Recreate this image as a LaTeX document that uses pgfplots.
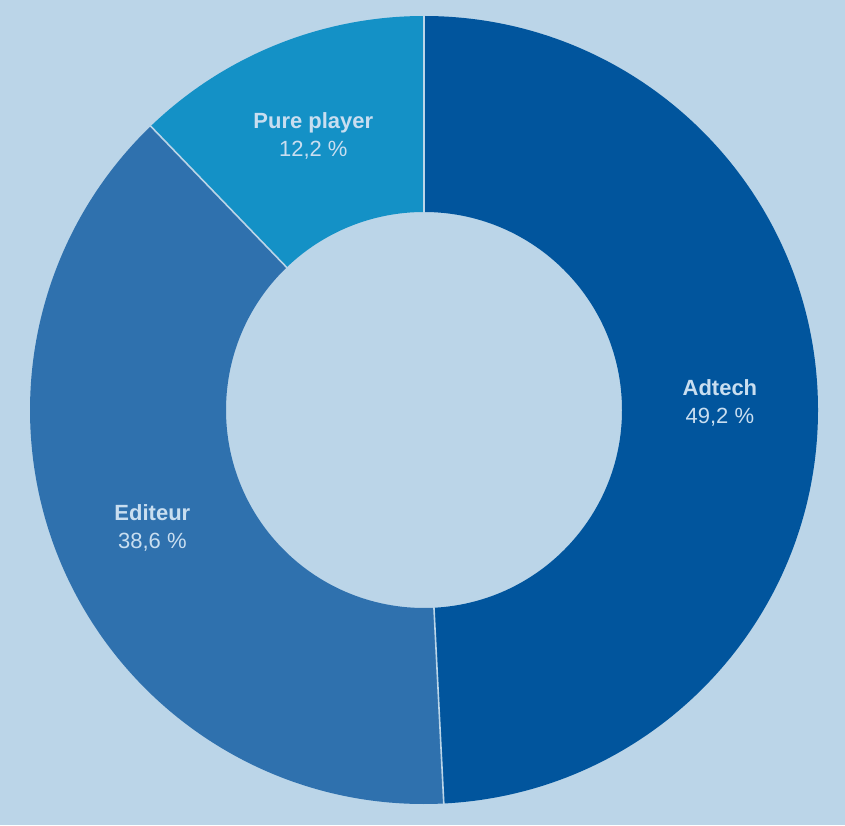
\documentclass[border=0pt]{standalone}
\usepackage{pgfplots}
\pgfplotsset{compat=1.18}
\usepackage{pgfplotstable}
\usepackage{fontspec}
\setmainfont{Liberation Sans}

\definecolor{bg}{HTML}{BBD5E8}
\definecolor{sliceA}{HTML}{01559D}
\definecolor{sliceB}{HTML}{2F71AE}
\definecolor{sliceC}{HTML}{1491C6}
\definecolor{txt}{HTML}{C9DEF0}

% shares in percent, clockwise from 12 o'clock
\pgfplotstableread[col sep=comma]{
label,value
Adtech,49.2
Editeur,38.6
Pure player,12.2
}\shares

\newcommand\pct[1]{\pgfmathprintnumber[use comma,fixed,fixed zerofill,precision=1,assume math mode=true]{#1}~\%}

\begin{document}
\begin{tikzpicture}
\pgfplotstablegetelem{0}{value}\of\shares \let\va\pgfplotsretval
\pgfplotstablegetelem{1}{value}\of\shares \let\vb\pgfplotsretval
\pgfplotstablegetelem{2}{value}\of\shares \let\vc\pgfplotsretval
\pgfmathsetmacro\aA{90}
\pgfmathsetmacro\aB{\aA-3.6*\va}
\pgfmathsetmacro\aC{\aB-3.6*\vb}
\pgfmathsetmacro\aD{\aC-3.6*\vc}
\pgfmathsetmacro\mA{(\aA+\aB)/2}
\pgfmathsetmacro\mB{(\aB+\aC)/2}
\pgfmathsetmacro\mC{(\aC+\aD)/2}
% one ring sector: start angle, end angle, colour
\newcommand\slice[3]{%
  \fill[#3] ([shift={(#1:197pt)}]axis cs:424,415) arc[start angle=#1,end angle=#2,radius=197pt]
    -- ([shift={(#2:99pt)}]axis cs:424,415) arc[start angle=#2,end angle=#1,radius=99pt] -- cycle;}
\newcommand\sep[1]{%
  \draw[bg,line width=0.8pt] ([shift={(#1:98.5pt)}]axis cs:424,415) -- ([shift={(#1:197.5pt)}]axis cs:424,415);}
\begin{axis}[scale only axis,width=422.5pt,height=412.5pt,
  xmin=0,xmax=845,ymin=0,ymax=825,hide axis,clip=false]
  \fill[bg] (rel axis cs:0,0) rectangle (rel axis cs:1,1);
  \slice{\aA}{\aB}{sliceA}
  \slice{\aB}{\aC}{sliceB}
  \slice{\aC}{\aD}{sliceC}
  \sep{\aA}\sep{\aB}\sep{\aC}
  \begin{scope}[every node/.style={txt,align=center,font=\fontsize{11}{14}\selectfont}]
  \node at ([shift={(\mA:148pt)}]axis cs:424,415) {\textbf{Adtech}\\\pct{\va}};
  \node at ([shift={(\mB:148pt)}]axis cs:424,415) {\textbf{Editeur}\\\pct{\vb}};
  \node at ([shift={(\mC:148pt)}]axis cs:424,415) {\textbf{Pure player}\\\pct{\vc}};
  \end{scope}
\end{axis}
\end{tikzpicture}
\end{document}
